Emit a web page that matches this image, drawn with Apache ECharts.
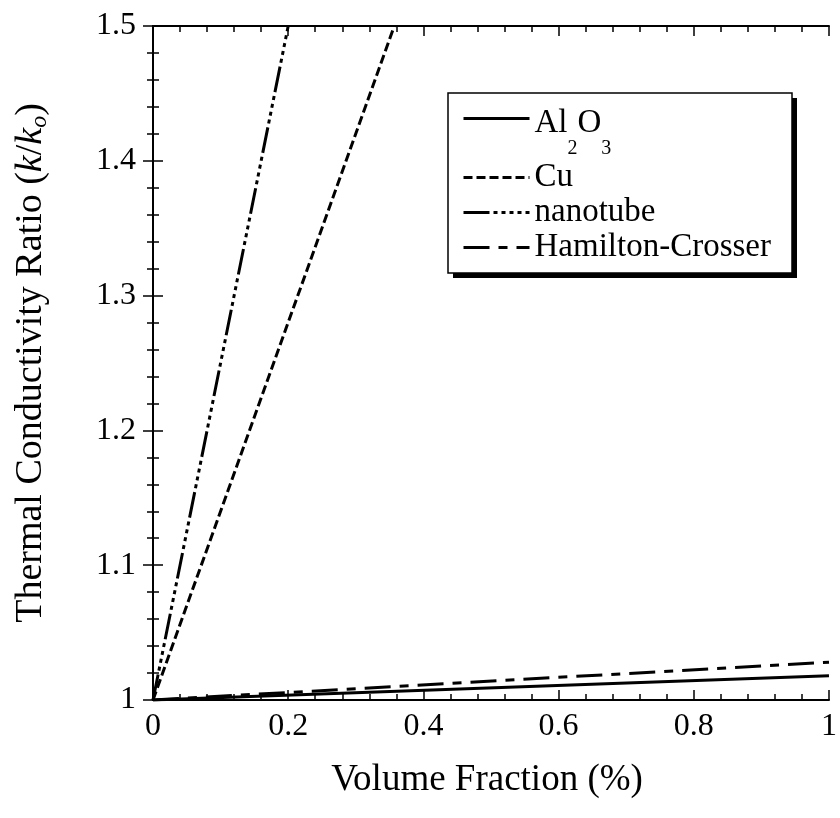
<!DOCTYPE html>
<html>
<head>
<meta charset="utf-8">
<script src="https://cdn.jsdelivr.net/npm/echarts@6/dist/echarts.min.js"></script>
<style>
  html, body { margin: 0; padding: 0; background: #fff; }
  #box { width: 840px; height: 818px; }
</style>
</head>
<body>
<div id="box"></div>
<script>
// 数据：体积分数 (%) 与导热系数比 k/ko
var al2o3X = [0, 1];
var al2o3Y = [1, 1.018];
var cuX = [0, 0.357];
var cuY = [1, 1.5];
var tubeX = [0, 0.2];
var tubeY = [1, 1.5];
var hcX = [0, 1];
var hcY = [1, 1.028];
var seriesNames = ['Al2O3', 'Cu', 'nanotube', 'Hamilton-Crosser'];

var FONT = 'Liberation Serif';

function pairs(xs, ys) {
    var out = [];
    for (var i = 0; i < xs.length; i++) {
        out.push([xs[i], ys[i]]);
    }
    return out;
}

function lineSeries(name, xs, ys, dash) {
    return {
        name: name,
        type: 'line',
        symbol: 'none', // 去掉点
        xAxisIndex: 0,
        yAxisIndex: 0,
        z: 2,
        itemStyle: { color: '#000', opacity: 0 },
        lineStyle: {
            color: '#000',
            width: 3,
            type: dash
        },
        data: pairs(xs, ys)
    };
}

var tickCommon = {
    axisLine: { show: true, lineStyle: { color: '#000', width: 2 } },
    axisTick: { show: true, inside: true, length: 10, lineStyle: { color: '#000', width: 1.5 } },
    minorTick: { show: true, splitNumber: 5, length: 6, lineStyle: { color: '#000', width: 1.5 } },
    splitLine: { show: false },
    minorSplitLine: { show: false }
};

var myChart = echarts.init(document.getElementById('box'));
myChart.setOption({
    animation: false,
    backgroundColor: '#fff',
    grid: { left: 153, top: 26, right: 8, bottom: 118, containLabel: false },
    xAxis: [
        Object.assign({
            type: 'value',
            min: 0,
            max: 1,
            interval: 0.2,
            position: 'bottom',
            name: 'Volume Fraction (%)',
            nameLocation: 'middle',
            nameGap: 62,
            nameTextStyle: { fontFamily: FONT, fontSize: 37, color: '#000', padding: [0, 8, 0, 0] },
            axisLabel: { fontFamily: FONT, fontSize: 32, color: '#000', margin: 11 }
        }, tickCommon),
        Object.assign({
            type: 'value',
            min: 0,
            max: 1,
            interval: 0.2,
            position: 'top',
            axisLabel: { show: false }
        }, tickCommon)
    ],
    yAxis: [
        Object.assign({
            type: 'value',
            min: 1,
            max: 1.5,
            interval: 0.1,
            position: 'left',
            name: '{t|Thermal Conductivity Ratio (}{i|k}{t|/}{i|k}{o|o}{t|)}',
            nameLocation: 'middle',
            nameGap: 101,
            nameTextStyle: {
                fontFamily: FONT, fontSize: 38, color: '#000',
                rich: {
                    t: { fontFamily: FONT, fontSize: 38, color: '#000', lineHeight: 40, verticalAlign: 'top' },
                    i: { fontFamily: FONT, fontSize: 38, color: '#000', fontStyle: 'italic', lineHeight: 40, verticalAlign: 'top' },
                    o: { fontFamily: FONT, fontSize: 24, color: '#000', fontStyle: 'italic', lineHeight: 40, verticalAlign: 'top', padding: [16, 0, 0, 0] }
                }
            },
            axisLabel: { fontFamily: FONT, fontSize: 32, color: '#000', margin: 17 }
        }, tickCommon),
        Object.assign({
            type: 'value',
            min: 1,
            max: 1.5,
            interval: 0.1,
            position: 'right',
            axisLabel: { show: false }
        }, tickCommon)
    ],
    graphic: [
        { type: 'rect', z: 3, shape: { x: 453, y: 98, width: 344, height: 180 }, style: { fill: '#000' } },
        { type: 'rect', z: 3, shape: { x: 448, y: 93, width: 344, height: 180 }, style: { fill: '#fff', stroke: '#000', lineWidth: 1.5 } }
    ],
    legend: {
        data: seriesNames,
        orient: 'vertical',
        left: 462,
        top: 80,
        z: 4,
        padding: 0,
        itemWidth: 66,
        itemHeight: 14,
        itemGap: 2,
        inactiveColor: '#000',
        itemStyle: { opacity: 0 },
        lineStyle: { width: 3 },
        textStyle: {
            fontFamily: FONT, fontSize: 33, color: '#000', lineHeight: 26,
            rich: {
                n: { fontFamily: FONT, fontSize: 33, color: '#000', lineHeight: 77, verticalAlign: 'top', padding: [27, 0, 0, 0] },
                s: { fontFamily: FONT, fontSize: 20, color: '#000', lineHeight: 77, verticalAlign: 'top', padding: [59, 0, 0, 0] }
            }
        },
        formatter: function (name) {
            if (name === 'Al2O3') {
                return '{n|Al}{s|2}{n|O}{s|3}';
            }
            return name;
        }
    },
    series: [
        lineSeries('Al2O3', al2o3X, al2o3Y, 'solid'),
        lineSeries('Cu', cuX, cuY, [9, 4]),
        lineSeries('nanotube', tubeX, tubeY, [26, 4, 4, 4, 4, 4, 4, 4, 4, 4]),
        lineSeries('Hamilton-Crosser', hcX, hcY, [26, 9, 9, 9])
    ]
});
window.addEventListener('resize', function () {
    myChart.resize();
});
</script>
</body>
</html>
